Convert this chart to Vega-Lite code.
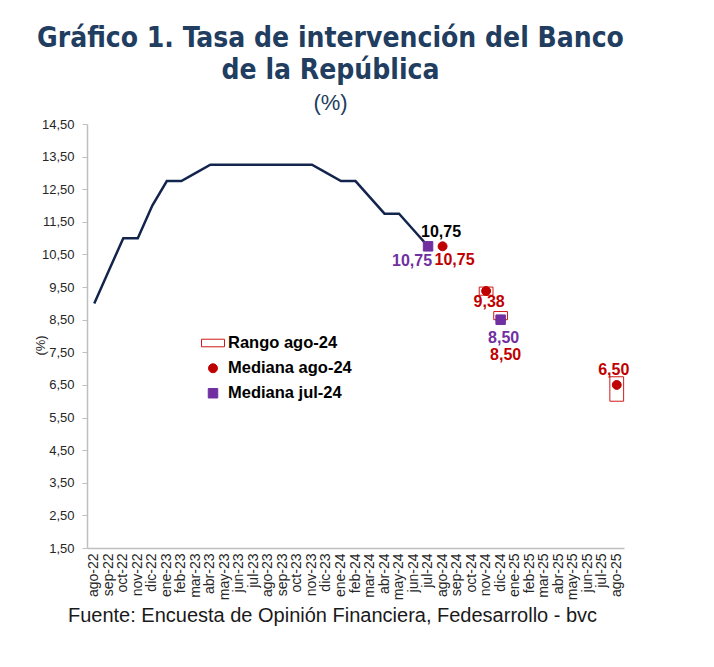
{
  "$schema": "https://vega.github.io/schema/vega-lite/v6.json",
  "width": 537,
  "height": 424,
  "autosize": "none",
  "padding": {"left": 87, "top": 124, "right": 90, "bottom": 119},
  "background": "white",
  "config": {
    "view": {"stroke": null},
    "font": "Liberation Sans",
    "locale": {"number": {"decimal": ",", "thousands": ".", "grouping": [3], "currency": ["$", ""]}},
    "legend": {
      "orient": "none",
      "legendX": 114,
      "legendY": 207,
      "title": null,
      "labelFont": "Liberation Sans",
      "labelFontWeight": "bold",
      "labelFontSize": 16.5,
      "labelColor": "#000000",
      "symbolStrokeWidth": 1,
      "rowPadding": 8,
      "labelOffset": 3,
      "padding": 0
    }
  },
  "title": {
    "text": ["Gráfico 1. Tasa de intervención del Banco", "de la República"],
    "subtitle": "(%)",
    "anchor": "middle",
    "dx": -25,
    "font": "Liberation Sans Narrow, DejaVu Sans Condensed, sans-serif",
    "fontSize": 28,
    "fontWeight": "bold",
    "color": "#213d5f",
    "lineHeight": 32,
    "subtitleFont": "Liberation Sans, sans-serif",
    "subtitleFontSize": 22,
    "subtitleColor": "#213d5f",
    "subtitlePadding": 8,
    "offset": 4
  },
  "datasets": {
    "tasa": [
      {"mes": "ago-22", "tasa": 9.00},
      {"mes": "sep-22", "tasa": 10.00},
      {"mes": "oct-22", "tasa": 11.00},
      {"mes": "nov-22", "tasa": 11.00},
      {"mes": "dic-22", "tasa": 12.00},
      {"mes": "ene-23", "tasa": 12.75},
      {"mes": "feb-23", "tasa": 12.75},
      {"mes": "mar-23", "tasa": 13.00},
      {"mes": "abr-23", "tasa": 13.25},
      {"mes": "may-23", "tasa": 13.25},
      {"mes": "jun-23", "tasa": 13.25},
      {"mes": "jul-23", "tasa": 13.25},
      {"mes": "ago-23", "tasa": 13.25},
      {"mes": "sep-23", "tasa": 13.25},
      {"mes": "oct-23", "tasa": 13.25},
      {"mes": "nov-23", "tasa": 13.25},
      {"mes": "dic-23", "tasa": 13.00},
      {"mes": "ene-24", "tasa": 12.75},
      {"mes": "feb-24", "tasa": 12.75},
      {"mes": "mar-24", "tasa": 12.25},
      {"mes": "abr-24", "tasa": 11.75},
      {"mes": "may-24", "tasa": 11.75},
      {"mes": "jun-24", "tasa": 11.25},
      {"mes": "jul-24", "tasa": 10.75}
    ],
    "rango": [
      {"mes": "nov-24", "min": 9.25, "max": 9.50},
      {"mes": "dic-24", "min": 8.50, "max": 8.75},
      {"mes": "ago-25", "min": 6.00, "max": 6.75}
    ],
    "encuesta": [
      {"mes": "ago-24", "serie": "Mediana ago-24", "valor": 10.75},
      {"mes": "nov-24", "serie": "Mediana ago-24", "valor": 9.38},
      {"mes": "dic-24", "serie": "Mediana ago-24", "valor": 8.50},
      {"mes": "ago-25", "serie": "Mediana ago-24", "valor": 6.50},
      {"mes": "jul-24", "serie": "Mediana jul-24", "valor": 10.75},
      {"mes": "dic-24", "serie": "Mediana jul-24", "valor": 8.50}
    ]
  },
  "layer": [
    {
      "data": {"name": "tasa"},
      "mark": {"type": "line", "color": "#14254d", "strokeWidth": 2.5},
      "encoding": {
        "x": {
          "field": "mes",
          "type": "ordinal",
          "sort": null,
          "scale": {
            "type": "band",
            "paddingInner": 0,
            "paddingOuter": 0,
            "domain": ["ago-22","sep-22","oct-22","nov-22","dic-22","ene-23","feb-23","mar-23","abr-23","may-23","jun-23","jul-23","ago-23","sep-23","oct-23","nov-23","dic-23","ene-24","feb-24","mar-24","abr-24","may-24","jun-24","jul-24","ago-24","sep-24","oct-24","nov-24","dic-24","ene-25","feb-25","mar-25","abr-25","may-25","jun-25","jul-25","ago-25"]
          },
          "axis": {
            "title": "Fuente: Encuesta de Opinión Financiera, Fedesarrollo - bvc",
            "titleFont": "Liberation Sans",
            "titleFontSize": 20,
            "titleFontWeight": "normal",
            "titleColor": "#1a1a1a",
            "titleX": 245,
            "titleY": 67,
            "titleAlign": "center",
            "titleBaseline": "middle",
            "labelAngle": 270,
            "labelAlign": "right",
            "labelBaseline": "middle",
            "labelFont": "Liberation Sans",
            "labelFontSize": 14,
            "labelColor": "#262626",
            "labelPadding": 5,
            "labelOverlap": false,
            "ticks": false,
            "domainColor": "#bfbfbf",
            "domainWidth": 1.5,
            "grid": false
          }
        },
        "y": {
          "field": "tasa",
          "type": "quantitative",
          "scale": {"domain": [1.5, 14.5], "nice": false, "zero": false},
          "axis": {
            "title": "(%)",
            "titleFont": "Liberation Sans",
            "titleFontSize": 13,
            "titleFontWeight": "normal",
            "titleColor": "#262626",
            "titleX": -47,
            "titleY": 221,
            "titleAngle": 270,
            "titleAlign": "center",
            "titleBaseline": "middle",
            "values": [1.5,2.5,3.5,4.5,5.5,6.5,7.5,8.5,9.5,10.5,11.5,12.5,13.5,14.5],
            "tickCount": 20,
            "format": ".2f",
            "labelOverlap": false,
            "labelFlush": false,
            "labelFont": "Liberation Sans",
            "labelFontSize": 13,
            "labelColor": "#262626",
            "labelPadding": 8,
            "tickSize": 5,
            "tickColor": "#bfbfbf",
            "domainColor": "#bfbfbf",
            "domainWidth": 1.5,
            "grid": false
          }
        }
      }
    },
    {
      "data": {"name": "rango"},
      "mark": {"type": "bar", "fill": "white", "stroke": "#d01818", "strokeWidth": 1, "width": {"band": 0.95}},
      "encoding": {
        "x": {"field": "mes", "type": "ordinal", "sort": null},
        "y": {"field": "min", "type": "quantitative"},
        "y2": {"field": "max"}
      }
    },
    {
      "data": {"name": "encuesta"},
      "mark": {"type": "point", "filled": true, "strokeWidth": 1, "opacity": 1},
      "encoding": {
        "x": {"field": "mes", "type": "ordinal", "sort": null},
        "y": {"field": "valor", "type": "quantitative"},
        "fill": {
          "field": "serie", "type": "nominal",
          "scale": {"domain": ["Rango ago-24", "Mediana ago-24", "Mediana jul-24"], "range": ["white", "#c00000", "#7030a0"]},
          "legend": {"title": null}
        },
        "stroke": {
          "field": "serie", "type": "nominal",
          "scale": {"domain": ["Rango ago-24", "Mediana ago-24", "Mediana jul-24"], "range": ["#d01818", "#c00000", "#7030a0"]},
          "legend": {"title": null}
        },
        "shape": {
          "field": "serie", "type": "nominal",
          "scale": {"domain": ["Rango ago-24", "Mediana ago-24", "Mediana jul-24"], "range": ["M-1,-0.33H1V0.33H-1Z", "circle", "square"]},
          "legend": {"title": null}
        },
        "size": {
          "field": "serie", "type": "nominal",
          "scale": {"type": "ordinal", "domain": ["Rango ago-24", "Mediana ago-24", "Mediana jul-24"], "range": [529, 80, 90]},
          "legend": {"title": null}
        }
      }
    },
    {
      "data": {"name": "tasa"},
      "transform": [{"filter": "datum.mes == 'jul-24'"}],
      "mark": {"type": "text", "color": "#000000", "fontWeight": "bold", "fontSize": 16, "dx": 13, "dy": -14, "baseline": "middle"},
      "encoding": {
        "x": {"field": "mes", "type": "ordinal", "sort": null},
        "y": {"field": "tasa", "type": "quantitative"},
        "text": {"field": "tasa", "type": "quantitative", "format": ".2f"}
      }
    },
    {
      "data": {"name": "encuesta"},
      "transform": [{"filter": "datum.mes == 'jul-24' && datum.serie == 'Mediana jul-24'"}],
      "mark": {"type": "text", "color": "#7030a0", "fontWeight": "bold", "fontSize": 16, "dx": -16, "dy": 15, "baseline": "middle"},
      "encoding": {
        "x": {"field": "mes", "type": "ordinal", "sort": null},
        "y": {"field": "valor", "type": "quantitative"},
        "text": {"field": "valor", "type": "quantitative", "format": ".2f"}
      }
    },
    {
      "data": {"name": "encuesta"},
      "transform": [{"filter": "datum.mes == 'ago-24' && datum.serie == 'Mediana ago-24'"}],
      "mark": {"type": "text", "color": "#c00000", "fontWeight": "bold", "fontSize": 16, "dx": 12, "dy": 14, "baseline": "middle"},
      "encoding": {
        "x": {"field": "mes", "type": "ordinal", "sort": null},
        "y": {"field": "valor", "type": "quantitative"},
        "text": {"field": "valor", "type": "quantitative", "format": ".2f"}
      }
    },
    {
      "data": {"name": "encuesta"},
      "transform": [{"filter": "datum.mes == 'nov-24' && datum.serie == 'Mediana ago-24'"}],
      "mark": {"type": "text", "color": "#c00000", "fontWeight": "bold", "fontSize": 16, "dx": 3, "dy": 11, "baseline": "middle"},
      "encoding": {
        "x": {"field": "mes", "type": "ordinal", "sort": null},
        "y": {"field": "valor", "type": "quantitative"},
        "text": {"field": "valor", "type": "quantitative", "format": ".2f"}
      }
    },
    {
      "data": {"name": "encuesta"},
      "transform": [{"filter": "datum.mes == 'dic-24' && datum.serie == 'Mediana jul-24'"}],
      "mark": {"type": "text", "color": "#7030a0", "fontWeight": "bold", "fontSize": 16, "dx": 3, "dy": 18, "baseline": "middle"},
      "encoding": {
        "x": {"field": "mes", "type": "ordinal", "sort": null},
        "y": {"field": "valor", "type": "quantitative"},
        "text": {"field": "valor", "type": "quantitative", "format": ".2f"}
      }
    },
    {
      "data": {"name": "encuesta"},
      "transform": [{"filter": "datum.mes == 'dic-24' && datum.serie == 'Mediana ago-24'"}],
      "mark": {"type": "text", "color": "#c00000", "fontWeight": "bold", "fontSize": 16, "dx": 5, "dy": 35, "baseline": "middle"},
      "encoding": {
        "x": {"field": "mes", "type": "ordinal", "sort": null},
        "y": {"field": "valor", "type": "quantitative"},
        "text": {"field": "valor", "type": "quantitative", "format": ".2f"}
      }
    },
    {
      "data": {"name": "encuesta"},
      "transform": [{"filter": "datum.mes == 'ago-25' && datum.serie == 'Mediana ago-24'"}],
      "mark": {"type": "text", "color": "#c00000", "fontWeight": "bold", "fontSize": 16, "dx": -3, "dy": -15, "baseline": "middle"},
      "encoding": {
        "x": {"field": "mes", "type": "ordinal", "sort": null},
        "y": {"field": "valor", "type": "quantitative"},
        "text": {"field": "valor", "type": "quantitative", "format": ".2f"}
      }
    }
  ]
}
